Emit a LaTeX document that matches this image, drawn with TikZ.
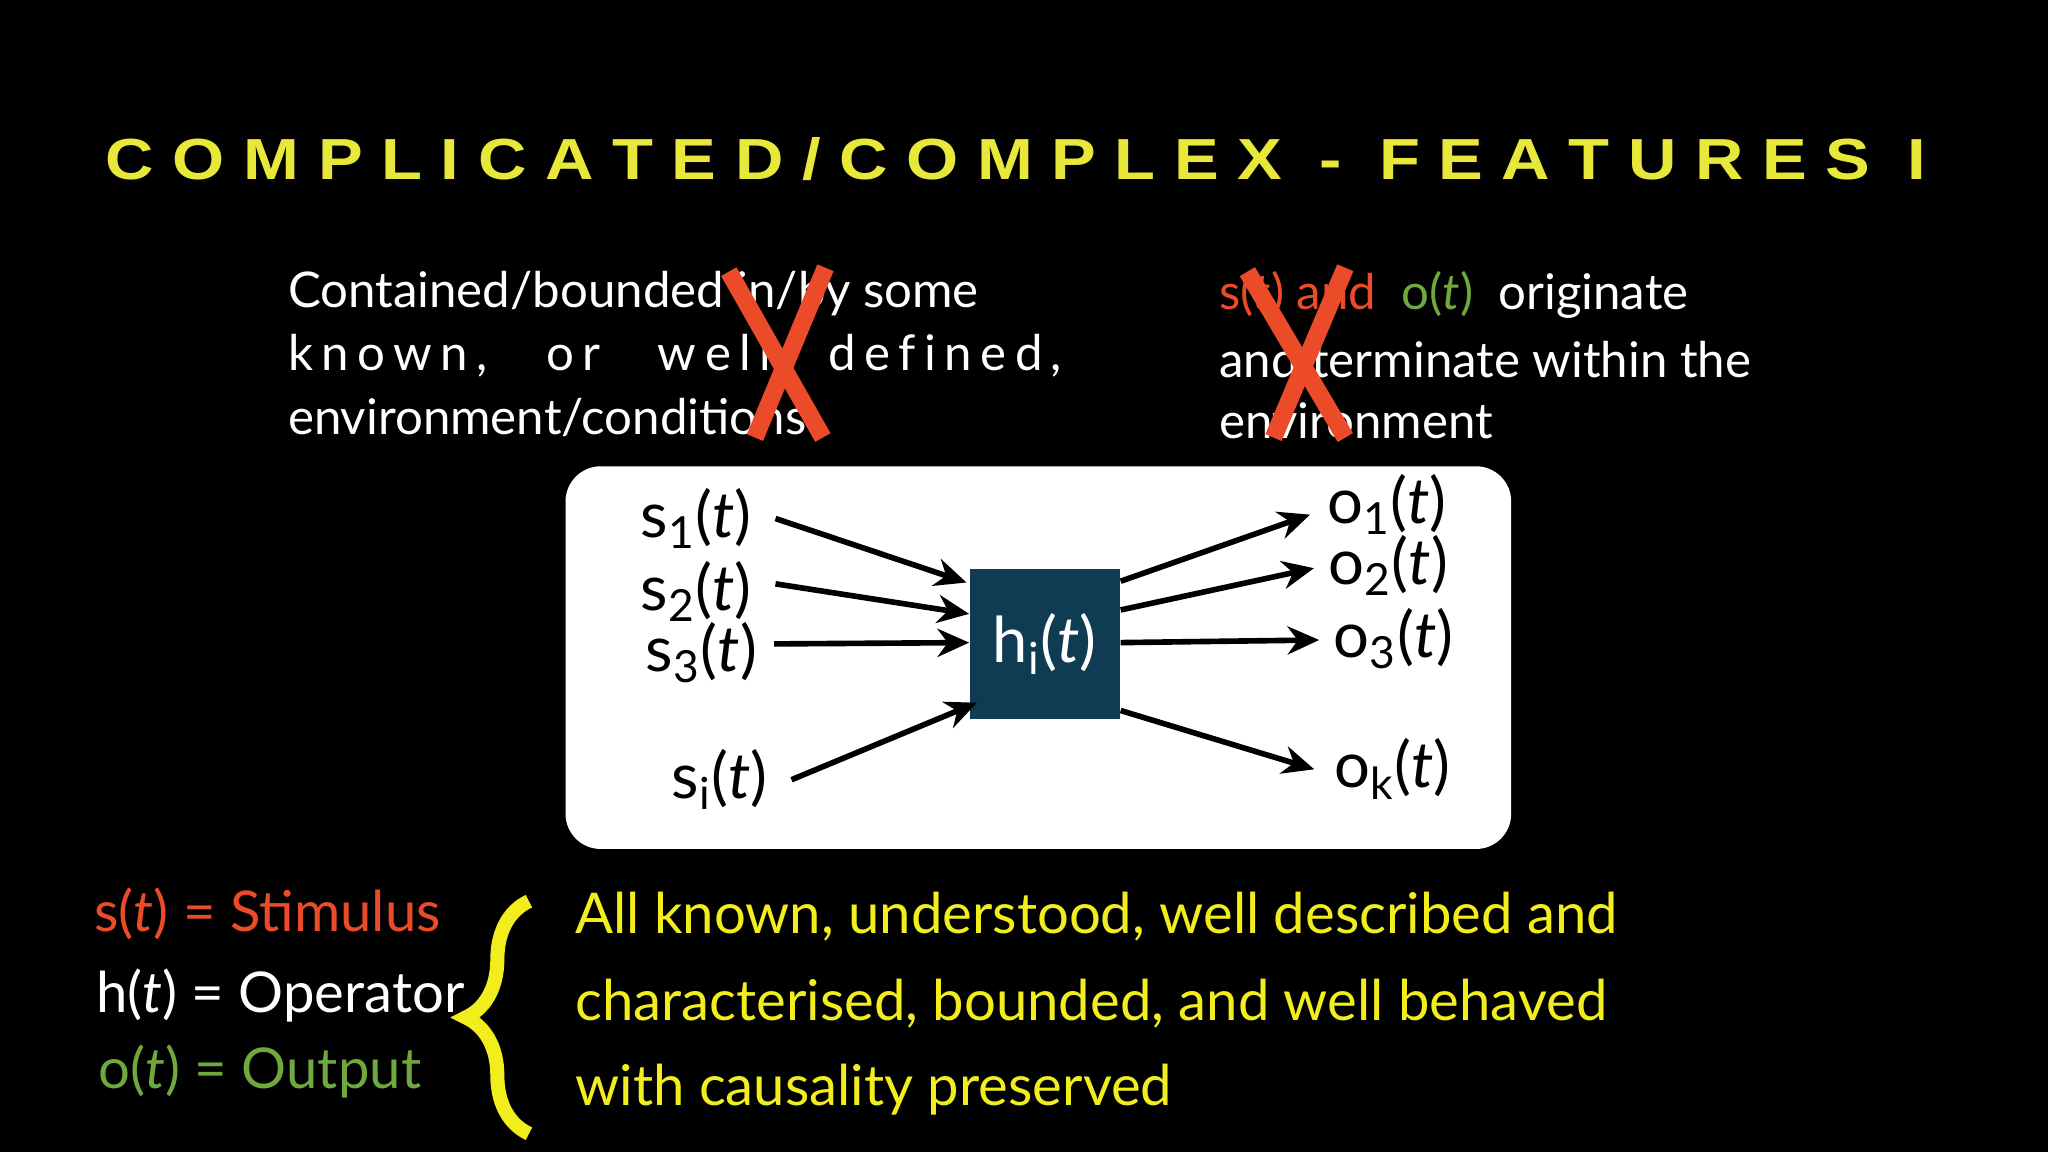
\documentclass[tikz,border=0pt]{standalone}
\usepackage{fontspec}
\setmainfont{Lato}
\newfontfamily\titlefont{Liberation Sans}
\usetikzlibrary{arrows.meta,decorations.pathreplacing,calc}
\definecolor{ttl}{HTML}{E8E83A}
\definecolor{rd}{HTML}{EC4B2A}
\definecolor{gr}{HTML}{6FA83C}
\definecolor{yl}{HTML}{F2EE1E}
\definecolor{hbox}{HTML}{0F3C52}
\newcommand{\tv}{\textit{t}}
\begin{document}
\begin{tikzpicture}[x=0.01306cm,y=-0.01306cm,
  wtxt/.style={text=white,font=\fontsize{14}{17}\selectfont,anchor=west,inner sep=0},
  lbl/.style={text=black,font=\fontsize{18}{20}\selectfont,inner sep=1pt},
  arr/.style={-{Stealth[length=9pt,width=8pt]},line width=1.6pt,black},
  crs/.style={rd,line width=5pt},
  btxt/.style={font=\fontsize{16}{19}\selectfont,inner sep=0}]
\fill[black] (0,0) rectangle (1568,882);
\useasboundingbox (0,0) rectangle (1568,882);
\node[text=ttl,inner sep=0] (title) at (778,122) {\resizebox{18.2cm}{0.42cm}{\titlefont\bfseries C O M P L I C A T E D / C O M P L E X\ \ -\ \ F E A T U R E S\ \ I}};
% top left text
\node[wtxt] (l1) at (220,225) {Contained/bounded in/by some};
\node[wtxt] (l2) at (220,272) {\makebox[7cm][s]{k n o w n , \quad o r \quad w e l l \quad d e f i n e d ,}};
\node[wtxt] (l3) at (220,320) {environment/conditions};
% top right
\node[wtxt] (r1) at (933,226) {\textcolor{rd}{s(\tv) and} \ \textcolor{gr}{o(\tv)} \ originate};
\node[wtxt] (r2) at (933,275) {and terminate within the};
\node[wtxt] (r3) at (933,322) {environment};
% crosses
\draw[crs] (558,208) -- (630,335);
\draw[crs] (632,205) -- (578,335);
\draw[crs] (955,208) -- (1030,335);
\draw[crs] (1030,205) -- (975,335);
% box
\fill[white,rounded corners=10pt] (433,357) rectangle (1157,650);
\node[fill=hbox,minimum width=1.5cm,minimum height=1.5cm,text=white,font=\fontsize{18}{20}\selectfont] (h) at (800,493) {h\textsubscript{i}(\tv)};
\node[lbl] (s1) at (533,397) {s\textsubscript{1}(\tv)};
\node[lbl] (s2) at (533,453) {s\textsubscript{2}(\tv)};
\node[lbl] (s3) at (537,500) {s\textsubscript{3}(\tv)};
\node[lbl] (si) at (551,597) {s\textsubscript{i}(\tv)};
\node[lbl] (o1) at (1062,386) {o\textsubscript{1}(\tv)};
\node[lbl] (o2) at (1063,433) {o\textsubscript{2}(\tv)};
\node[lbl] (o3) at (1067,489) {o\textsubscript{3}(\tv)};
\node[lbl] (ok) at (1066,589) {o\textsubscript{k}(\tv)};
\draw[arr] ($(s1.east)+(15,0)$) -- (740,446);
\draw[arr] ($(s2.east)+(15,-6)$) -- (742,470);
\draw[arr] ($(s3.east)+(10,-7)$) -- (742,492);
\draw[arr] ($(si.east)+(15,0)$) -- (748,538);
\draw[arr] (858,445) -- ($(o1.west)+(-10,8)$);
\draw[arr] (858,467) -- ($(o2.west)+(-8,2)$);
\draw[arr] (858,492) -- ($(o3.west)+(-8,1)$);
\draw[arr] (858,544) -- ($(ok.west)+(-12,0)$);
% legend
\node[btxt,anchor=east,text=rd] (ls) at (338,700) {s(\tv) = Stimulus};
\node[btxt,anchor=west,text=white] (lh) at (73,762) {h(\tv) = Operator};
\node[btxt,anchor=west,text=gr] (lo) at (75,820) {o(\tv) = Output};
\draw[yl,line width=4pt,decorate,decoration={brace,amplitude=18pt,mirror}] (405,690) -- (405,868);
\node[btxt,anchor=west,text=yl] (y1) at (440,702) {All known, understood, well described and};
\node[btxt,anchor=west,text=yl] (y2) at (440,768) {characterised, bounded, and well behaved};
\node[btxt,anchor=west,text=yl] (y3) at (440,834) {with causality preserved};
\end{tikzpicture}
\end{document}
